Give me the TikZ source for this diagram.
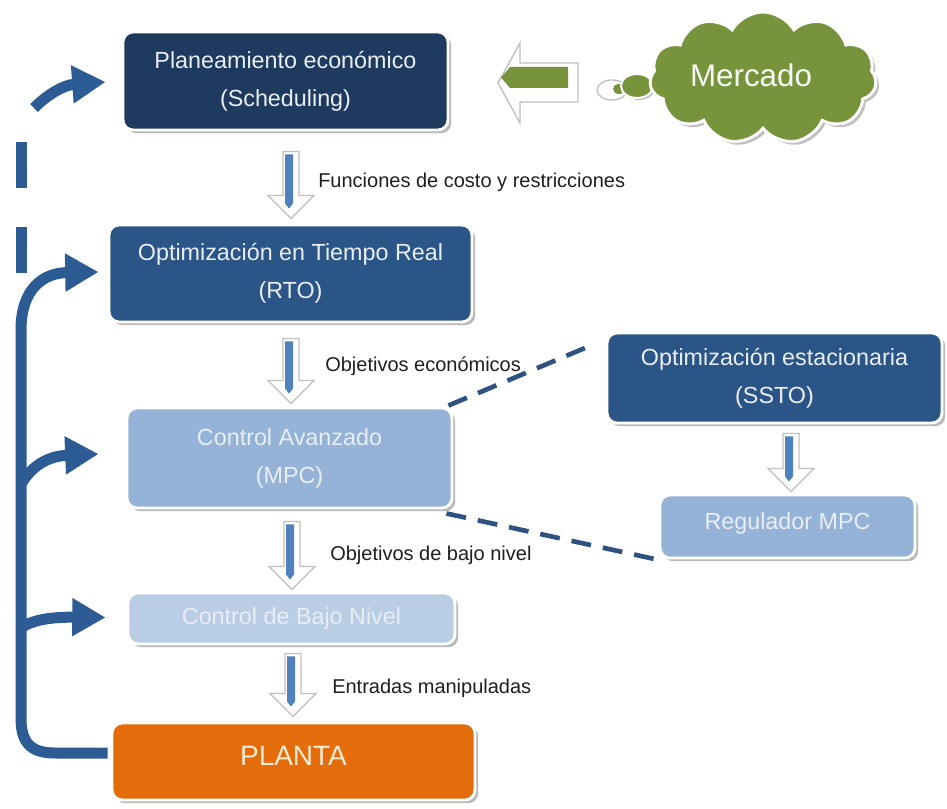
\documentclass[tikz,border=0pt]{standalone}
\usepackage{fontspec}
\setmainfont{Liberation Sans}
\usetikzlibrary{arrows.meta,calc,shapes.symbols,shadows}

\definecolor{navy}{HTML}{1F3A5F}
\definecolor{midblue}{HTML}{2C5587}
\definecolor{paleblue}{HTML}{95B3D7}
\definecolor{lightblue}{HTML}{B9CDE5}
\definecolor{plantorange}{HTML}{E46C0A}
\definecolor{fbblue}{HTML}{2D5B94}
\definecolor{dashblue}{HTML}{2F5280}
\definecolor{barblue}{HTML}{4F81BD}
\definecolor{marketgreen}{HTML}{77933C}
\definecolor{boxtext}{HTML}{E9EEF5}
\definecolor{creamtext}{HTML}{FDEBD3}

\tikzset{
  box/.style={rounded corners=7.5pt, draw=white, line width=2.2pt, align=center,
    inner sep=0pt, text=boxtext, font=\fontsize{17.5}{28.5}\selectfont,
    drop shadow={shadow xshift=2.4pt, shadow yshift=-2.4pt, fill=black!28, opacity=1}},
  lab/.style={anchor=west, inner sep=0pt, font=\fontsize{15}{18}\selectfont, text=black!88},
  fb/.style={line width=8.25pt, draw=fbblue},
  fbtip/.style={-{Triangle[length=25pt,width=27pt]}},
  linkdash/.style={draw=dashblue, line width=3.5pt, dash pattern=on 15pt off 9pt},
  pics/downarr/.style={code={
    \fill[white, draw=black!25, line width=1pt] (-8,0) -- (8,0) -- (8,#1-23) -- (23,#1-23)
      -- (0,#1) -- (-23,#1-23) -- (-8,#1-23) -- cycle;
    \fill[barblue] (-6,3) -- (2,3) -- (2,#1-15) -- (-2,#1-10) -- (-6,#1-15) -- cycle;
  }},
}

\begin{document}
\begin{tikzpicture}[x=0.75pt, y=-0.75pt]
\fill[white] (0,0) rectangle (947,809);
\useasboundingbox (0,0) rectangle (947,809);

% hierarchy boxes
\node[box, fill=navy, minimum width=243.75pt, minimum height=73.5pt] (plan) at (285.5,81)
  {Planeamiento económico\\(Scheduling)};
\node[box, fill=midblue, minimum width=272.25pt, minimum height=72.75pt] (rto) at (290.5,273.5)
  {Optimización en Tiempo Real\\(RTO)};
\node[box, fill=paleblue, minimum width=243.75pt, minimum height=75pt] (mpc) at (289.5,458)
  {Control Avanzado\\(MPC)};
\node[box, fill=lightblue, minimum width=245.25pt, minimum height=38.25pt] (bajo) at (291.5,618.5)
  {Control de Bajo Nivel};
\node[box, fill=plantorange, minimum width=272.25pt, minimum height=57.75pt, text=creamtext,
  font=\fontsize{21}{25}\selectfont, text depth=9pt] (planta) at (293.5,761.5) {PLANTA};
\node[box, fill=midblue, minimum width=251.25pt, minimum height=67.5pt] (ssto) at (774.5,378)
  {Optimización estacionaria\\(SSTO)};
\node[box, fill=paleblue, minimum width=191.25pt, minimum height=47.25pt, text depth=8pt] (reg)
  at (787.5,526.5) {Regulador MPC};

% flow labels
\node[lab] (lab1) at (318,182) {Funciones de costo y restricciones};
\node[lab] (lab2) at (325,366) {Objetivos económicos};
\node[lab] (lab3) at (330,555) {Objetivos de bajo nivel};
\node[lab] (lab4) at (332,688) {Entradas manipuladas};

% block arrows between levels
\pic at ($(plan.south)+(5.5,20)$) {downarr=67};
\pic at ($(rto.south)+(0.5,15)$) {downarr=65};
\pic at ($(mpc.south)+(2.5,12)$) {downarr=68};
\pic at ($(bajo.south)+(1.5,8)$) {downarr=63};
\pic at ($(ssto.south)+(16.5,9)$) {downarr=58};

% dashed links to the MPC detail
\draw[linkdash] ($(mpc.north east)+(-5,-1)$) -- ($(ssto.north west)+(-10,12)$);
\draw[linkdash] ($(mpc.south east)+(-7,4)$) -- ($(reg.south west)+(-2,0)$);

% market cloud with thought bubbles
\draw[fill=white, draw=black!25, line width=1pt] (612,90) ellipse (15 and 10);
\fill[marketgreen] (619,89) ellipse (6 and 5);
\draw[fill=marketgreen, draw=white, line width=1.5pt,
  drop shadow={shadow xshift=1.5pt, shadow yshift=-1.5pt, fill=black!25, opacity=1}]
  (637,86) ellipse (16 and 12);
\node[cloud, cloud puffs=11, cloud puff arc=120, aspect=1.7, minimum width=170pt,
  minimum height=99pt, fill=marketgreen, draw=white, line width=2.2pt, inner sep=0pt,
  drop shadow={shadow xshift=2.4pt, shadow yshift=-2.4pt, fill=black!25, opacity=1}]
  (mercado) at (763,78) {};
\node[font=\fontsize{23.5}{28}\selectfont, text=white!96!green] (mercadotxt)
  at ($(mercado.center)+(-12,-3)$) {Mercado};

% market input arrow
\fill[white, draw=black!25, line width=1pt] (578,63) -- (520,63) -- (520,43) -- (498,83)
  -- (520,123) -- (520,102) -- (578,102) -- cycle;
\fill[marketgreen] (568,67) -- (510,67) -- (501,77.5) -- (510,88) -- (568,88) -- cycle;

% feedback from the plant
\coordinate (spineA) at (21,484);
\coordinate (spineB) at (21,628);
\coordinate (topTail) at (34,108);
\coordinate (dashA1) at (21,142);
\coordinate (dashA2) at (21,188);
\coordinate (dashB1) at (21,227);
\coordinate (dashB2) at (21,273);
\draw[fb, fbtip] ($(planta.west)+(-3,-8.5)$) -- (55,753) .. controls (30,753) and (21,742) .. (21,718)
  -- (21,330) .. controls (21,290) and (42,273) .. ($(rto.west)+(-9,-1.5)$);
\draw[fb, fbtip] (spineA) .. controls (33,464) and (50,456) .. ($(mpc.west)+(-27,-4)$);
\draw[fb, fbtip] (spineB) .. controls (33,619) and (55,617) .. ($(bajo.west)+(-21,-1)$);
\draw[fb] (dashA1) -- (dashA2);
\draw[fb] (dashB1) -- (dashB2);
\draw[fb, fbtip] (topTail) .. controls (48,94) and (64,85) .. ($(plan.west)+(-16,1)$);
\end{tikzpicture}
\end{document}
